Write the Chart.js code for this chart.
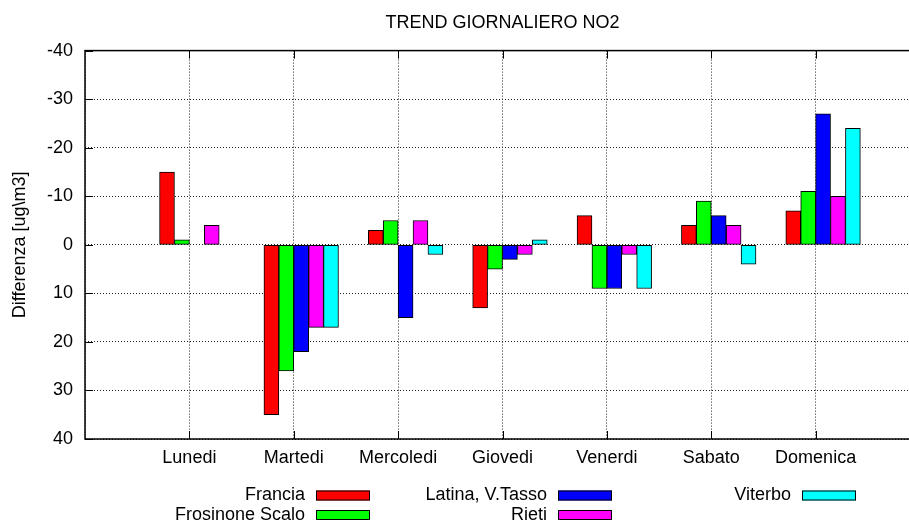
<!DOCTYPE html>
<html>
<head>
<meta charset="utf-8">
<title>Trend giornaliero NO2</title>
<script src="https://cdn.jsdelivr.net/npm/chart.js@4.4.1/dist/chart.umd.min.js"></script>
<style>
  html, body { margin: 0; padding: 0; background: #fff; overflow: hidden; }
  #wrap { width: 909px; height: 523px; overflow: hidden; }
  canvas { display: block; }
</style>
</head>
<body>
<div id="wrap"><canvas id="no2" width="940" height="523"></canvas></div>
<script>
'use strict';

// ── DATI ────────────────────────────────────────────────
const giorni    = ['Lunedi', 'Martedi', 'Mercoledi', 'Giovedi', 'Venerdi', 'Sabato', 'Domenica'];
const stazioni  = ['Francia', 'Frosinone Scalo', 'Latina, V.Tasso', 'Rieti', 'Viterbo'];
const francia   = [-15, 35, -3, 13, -6, -4, -7];
const frosinone = [-1, 26, -5, 5, 9, -9, -11];
const latina    = [0, 22, 15, 3, 9, -6, -27];
const rieti     = [-4, 17, -5, 2, 2, -4, -10];
const viterbo   = [0, 17, 2, -1, 9, 4, -24];
const yTicks    = [-40, -30, -20, -10, 0, 10, 20, 30, 40];

const serie  = [francia, frosinone, latina, rieti, viterbo];
const colori = ['#ff0000', '#00ff00', '#0000ff', '#ff00ff', '#00ffff'];

// istogramma a gruppi: 5 barre + 2 di spazio per ogni giorno
const GAP = 2;
const nSerie = serie.length;
const slot = 1 / (nSerie + GAP);
const xTickPos = [-1, 0, 1, 2, 3, 4, 5, 6, 7];

const FONT = "'Liberation Sans', Arial, Helvetica, sans-serif";
Chart.defaults.font.family = FONT;
Chart.defaults.font.size = 18;
Chart.defaults.color = '#000';

// ── CORNICE + TACCHE INTERNE ────────────────────────────
const cornice = {
  id: 'cornice',
  afterDatasetsDraw(chart) {
    const { ctx, chartArea: a, scales: { x, y } } = chart;
    ctx.save();
    ctx.strokeStyle = '#000';
    ctx.lineWidth = 1;
    ctx.beginPath();
    yTicks.forEach(v => {
      const py = Math.round(y.getPixelForValue(v)) + 0.5;
      ctx.moveTo(a.left, py);  ctx.lineTo(a.left + 8, py);
      ctx.moveTo(a.right, py); ctx.lineTo(a.right - 8, py);
    });
    giorni.forEach((g, i) => {
      const px = Math.round(x.getPixelForValue(i)) + 0.5;
      ctx.moveTo(px, a.bottom); ctx.lineTo(px, a.bottom - 8);
      ctx.moveTo(px, a.top);    ctx.lineTo(px, a.top + 8);
    });
    ctx.stroke();
    ctx.lineWidth = 1.5;
    ctx.strokeRect(a.left, a.top, a.right - a.left, a.bottom - a.top);
    ctx.restore();
  }
};

// ── LEGENDA (testo a sinistra del campione) ─────────────
const legenda = {
  id: 'legenda',
  afterDraw(chart) {
    const { ctx } = chart;
    const colX = [316, 558, 802];
    const rowY = [495.5, 515];
    ctx.save();
    ctx.font = `18px ${FONT}`;
    ctx.textAlign = 'right';
    ctx.textBaseline = 'middle';
    chart.data.datasets.forEach((ds, i) => {
      const c = Math.floor(i / 2), r = i % 2;
      const sx = colX[c], cy = rowY[r];
      ctx.fillStyle = '#000';
      ctx.fillText(ds.label, sx - 11, cy);
      ctx.fillStyle = ds.backgroundColor;
      ctx.fillRect(sx, cy - 5, 54, 10);
      ctx.strokeStyle = '#000';
      ctx.lineWidth = 1;
      ctx.strokeRect(sx + 0.5, cy - 4.5, 53, 9);
    });
    ctx.restore();
  }
};

const datasets = stazioni.map((nome, k) => ({
  label: nome,
  data: serie[k].map((v, i) => ({ x: i + (k - 1.5) * slot, y: v })),
  backgroundColor: colori[k],
  borderColor: '#000',
  borderWidth: 1,
  borderSkipped: false,
  grouped: false,
  categoryPercentage: 1,
  barPercentage: 1
}));

new Chart(document.getElementById('no2').getContext('2d'), {
  type: 'bar',
  data: { datasets },
  options: {
    responsive: false,
    animation: false,
    events: [],
    layout: { padding: { left: 0, right: 20, top: 0, bottom: 49 } },
    plugins: {
      legend: { display: false },
      tooltip: { enabled: false },
      title: {
        display: true,
        fullSize: false,
        text: 'TREND GIORNALIERO NO2',
        color: '#000',
        font: { size: 18, weight: 'normal' },
        padding: { top: 12, bottom: 17 }
      }
    },
    scales: {
      x: {
        type: 'linear',
        min: -1, max: 7,
        offset: false,
        afterBuildTicks: s => { s.ticks = xTickPos.map(v => ({ value: v })); },
        afterFit: s => { s.height = 35; },
        ticks: {
          callback: v => giorni[v] ?? '',
          autoSkip: false, maxRotation: 0, padding: 8, color: '#000'
        },
        grid: { color: '#222', lineWidth: 1, drawTicks: false, offset: false },
        border: { display: false, dash: [1, 2] }
      },
      y: {
        min: -40, max: 40,
        reverse: true,
        afterBuildTicks: s => { s.ticks = yTicks.map(v => ({ value: v })); },
        afterFit: s => { s.width = 85; },
        ticks: { padding: 12, color: '#000' },
        grid: { color: '#222', lineWidth: 1, drawTicks: false },
        border: { display: false, dash: [1, 2] },
        title: {
          display: true,
          text: 'Differenza [ug\\m3]',
          color: '#000',
          font: { size: 18 },
          padding: { top: 9, bottom: 0 }
        }
      }
    }
  },
  plugins: [cornice, legenda]
});
</script>
</body>
</html>
